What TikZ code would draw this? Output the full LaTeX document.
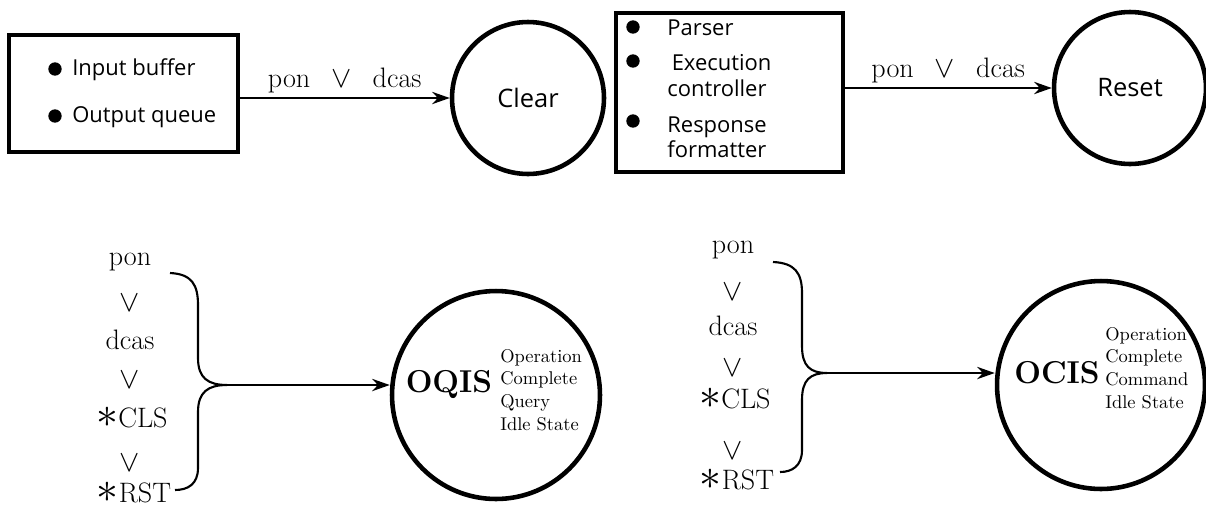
\documentclass[tikz,border=0pt]{standalone}
\usepackage{fontspec}
\setsansfont{Open Sans}
\usetikzlibrary{arrows.meta,calc,positioning}
\newcommand{\bigast}{{\fontsize{25}{25}\selectfont$\ast$}}

\begin{document}
\begin{tikzpicture}[x=0.02cm,y=-0.02cm,
    statenode/.style={circle,draw,line width=2.6pt,minimum size=#1,inner sep=0pt},
    unitbox/.style={draw,line width=2pt,inner sep=0pt},
    unititem/.style={anchor=west,align=left,inner sep=0pt,font=\sffamily\fontsize{12.5}{14.5}\selectfont},
    cond/.style={inner sep=1pt,font=\fontsize{16}{19}\selectfont},
    flow/.style={-{Stealth[length=10pt,width=7pt]},line width=1.2pt},
    brace/.style={line width=1.2pt},
    fullname/.style={anchor=west,align=left,inner sep=0pt,font=\fontsize{10.5}{13}\selectfont}]
    \useasboundingbox (0,0) rectangle (1206,508);

    % top row
    \node[unitbox,minimum width=4.58cm,minimum height=2.34cm] (bufbox) at (123.5,93.5) {};
    \node[unititem] (inbuf) at (72,70) {Input buffer};
    \node[unititem] (outq) at (72,117) {Output queue};
    \foreach \y in {69,116} \fill (55,\y) circle (3.8pt);
    \node[statenode=3.04cm,font=\sffamily\fontsize{14.5}{16}\selectfont] (clear) at (528,98) {Clear};

    \node[unitbox,minimum width=4.54cm,minimum height=3.18cm] (ctlbox) at (729.5,92.5) {};
    \node[unititem] (parser) at (667,28) {Parser};
    \node[unititem] (exec) at (667,75.5) {\hspace*{2.5pt}Execution\\controller};
    \node[unititem] (resp) at (667,137.5) {Response\\formatter};
    \foreach \y in {27,61,121} \fill (633,\y) circle (3.8pt);
    \node[statenode=3.04cm,font=\sffamily\fontsize{14.5}{16}\selectfont] (reset) at (1130,88) {Reset};

    \draw[flow] (bufbox.east |- clear) -- node[cond,above=1pt] {pon\hspace{0.75em}$\vee$\hspace{0.75em}dcas} (clear.west);
    \draw[flow] (ctlbox.east |- reset) -- node[cond,above=1pt] {pon\hspace{0.75em}$\vee$\hspace{0.75em}dcas} (reset.west);

    % bottom left
    \node[cond] (qpon) at (130,262) {pon};
    \node[cond] (qor1) at (130,303) {$\vee$};
    \node[cond] (qdcas) at (130,340) {dcas};
    \node[cond] (qor2) at (130,380) {$\vee$};
    \node[cond] (qcls) at (132,418) {\bigast CLS};
    \node[cond] (qor3) at (130,463) {$\vee$};
    \node[cond] (qrst) at (134,493) {\bigast RST};
    \coordinate (qtop) at (170,273);
    \coordinate (qtip) at (227,385);
    \coordinate (qbot) at (175,490);
    \draw[brace] (qtop) .. controls (192,274) and (198,285) .. (198,305) -- (198,358)
      .. controls (198,378) and (208,385) .. (qtip)
      .. controls (208,385) and (198,392) .. (198,412) -- (198,468)
      .. controls (198,484) and (188,490) .. (qbot);
    \node[statenode=4.16cm] (oqis) at (496,395) {};
    \node[inner sep=0pt,font=\bfseries\fontsize{18}{20}\selectfont] (oqisname) at (449,385) {OQIS};
    \node[fullname] (oqisfull) at (500,390) {Operation\\Complete\\Query\\Idle State};
    \draw[flow] (qtip) -- (oqis.west |- qtip);

    % bottom right
    \node[cond] (cpon) at (733,250) {pon};
    \node[cond] (cor1) at (733,292) {$\vee$};
    \node[cond] (cdcas) at (733,326) {dcas};
    \node[cond] (cor2) at (733,368) {$\vee$};
    \node[cond] (ccls) at (735,399) {\bigast CLS};
    \node[cond] (cor3) at (733,451) {$\vee$};
    \node[cond] (crst) at (737,480) {\bigast RST};
    \coordinate (ctop) at (773,262);
    \coordinate (ctip) at (827,373);
    \coordinate (cbot) at (780,472);
    \draw[brace] (ctop) .. controls (795,263) and (802,273) .. (802,293) -- (802,346)
      .. controls (802,366) and (810,373) .. (ctip)
      .. controls (810,373) and (802,380) .. (802,400) -- (802,450)
      .. controls (802,466) and (792,472) .. (cbot);
    \node[statenode=4.16cm] (ocis) at (1101,385) {};
    \node[inner sep=0pt,font=\bfseries\fontsize{18}{20}\selectfont] (ocisname) at (1057,373) {OCIS};
    \node[fullname] (ocisfull) at (1105,368) {Operation\\Complete\\Command\\Idle State};
    \draw[flow] (ctip) -- (ocis.west |- ctip);
\end{tikzpicture}
\end{document}
